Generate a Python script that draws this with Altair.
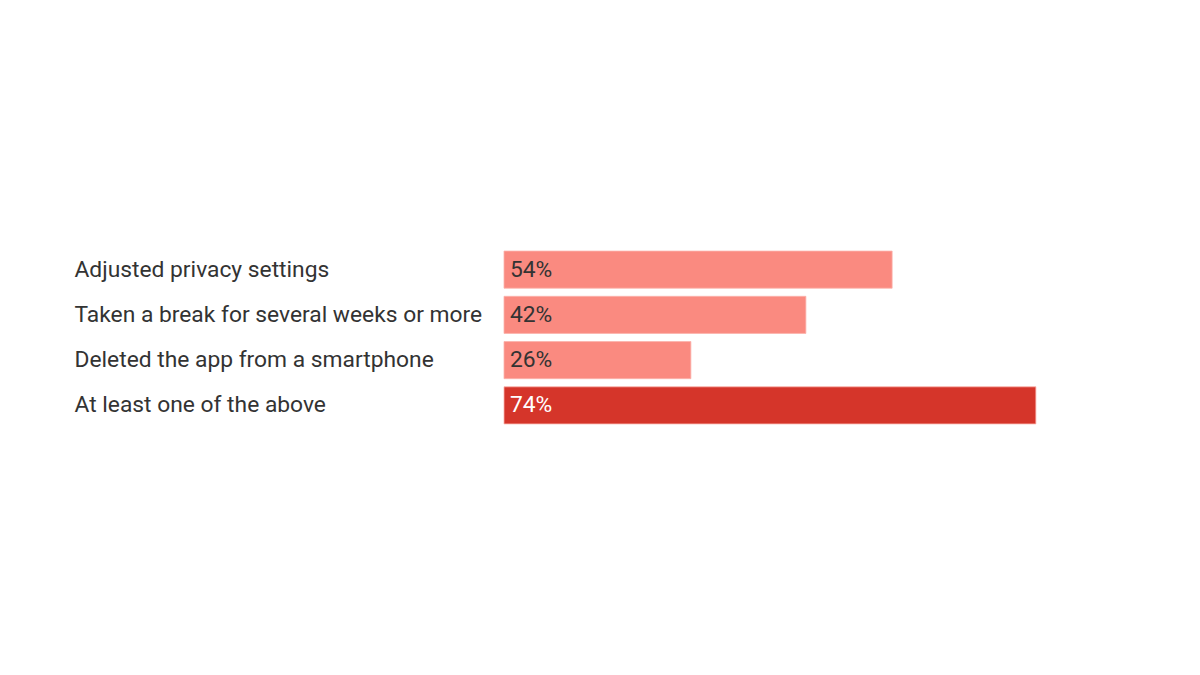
import altair as alt
import pandas as pd

categories = [
    "Adjusted privacy settings",
    "Taken a break for several weeks or more",
    "Deleted the app from a smartphone",
    "At least one of the above",
]
values = [54, 42, 26, 74]
groups = ["item", "item", "item", "total"]

df = pd.DataFrame({"category": categories, "value": values, "group": groups})
df["label"] = df["value"].astype(str) + "%"

FONT = "Roboto"
FS = 22.8

y = alt.Y(
    "category:N",
    sort=categories,
    title=None,
    scale=alt.Scale(paddingInner=0.18, paddingOuter=0.09),
    axis=alt.Axis(
        labelAlign="left",
        labelPadding=430,
        ticks=False,
        tickSize=0,
        domain=False,
        labelFont=FONT,
        labelFontSize=FS,
        labelColor="#333333",
        labelLimit=0,
    ),
)
x = alt.X("value:Q", scale=alt.Scale(domain=[0, 80]), axis=None)

bars = alt.Chart(df).mark_bar(stroke="#fbb3ab", strokeWidth=0.8).encode(
    x=x,
    y=y,
    color=alt.Color(
        "group:N",
        scale=alt.Scale(domain=["item", "total"], range=["#fa8a80", "#d5352a"]),
        legend=None,
    ),
)

text = alt.Chart(df).mark_text(
    align="left", baseline="middle", dx=6, font=FONT, fontSize=FS
).encode(
    x=alt.value(0),
    y=alt.Y("category:N", sort=categories),
    text="label:N",
    color=alt.Color(
        "group:N",
        scale=alt.Scale(domain=["item", "total"], range=["#333333", "#ffffff"]),
        legend=None,
    ),
)

chart = (
    alt.layer(bars, text)
    .resolve_scale(color="independent")
    .properties(
        width=575,
        height=181,
        autosize=alt.AutoSizeParams(type="none"),
        padding={"left": 496, "top": 239, "right": 20, "bottom": 20},
    )
    .configure_view(stroke=None)
)

chart.save("out.html", embed_options={"renderer": "svg", "actions": False})
